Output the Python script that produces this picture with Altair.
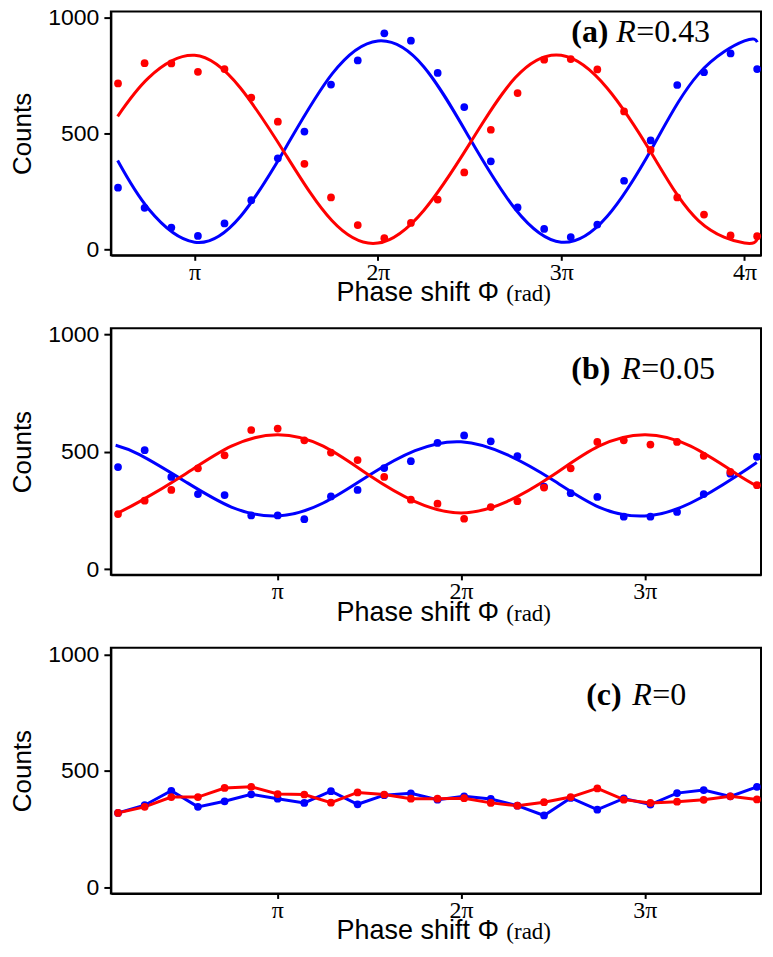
import altair as alt
import pandas as pd

# ---------------- data (x in units of pi) ----------------
xa = [0.582, 0.727, 0.873, 1.018, 1.163, 1.309, 1.454, 1.599, 1.744, 1.890, 2.035, 2.180,
      2.326, 2.471, 2.616, 2.762, 2.907, 3.052, 3.197, 3.343, 3.488, 3.633, 3.779, 3.924, 4.069]
a_blue = [266, 179, 94, 58, 112, 212, 393, 508, 711, 815, 932, 900,
          761, 614, 380, 181, 88, 53, 107, 296, 470, 709, 764, 845, 778]
a_red = [716, 803, 802, 766, 778, 655, 551, 369, 224, 105, 48, 114,
         215, 332, 516, 674, 818, 821, 776, 595, 429, 224, 150, 60, 57]

xb = [0.133, 0.278, 0.423, 0.568, 0.713, 0.858, 1.002, 1.147, 1.292, 1.437, 1.582, 1.727,
      1.872, 2.017, 2.162, 2.307, 2.452, 2.597, 2.742, 2.886, 3.031, 3.176, 3.321, 3.466, 3.611]
b_blue = [435, 507, 393, 320, 316, 229, 229, 213, 310, 338, 431, 460,
          538, 570, 545, 482, 352, 324, 308, 224, 224, 244, 320, 407, 479]
b_red = [235, 292, 338, 430, 485, 593, 599, 549, 497, 465, 393, 296,
         279, 215, 265, 290, 348, 430, 542, 549, 531, 542, 483, 415, 358]

c_blue = [320, 353, 415, 346, 370, 400, 381, 363, 413, 357, 396, 404,
          377, 391, 380, 351, 309, 384, 334, 382, 356, 405, 418, 391, 432]
c_red = [320, 346, 388, 388, 427, 432, 401, 399, 364, 408, 399, 381,
         381, 383, 363, 351, 366, 388, 425, 377, 363, 368, 376, 391, 378]

# fitted curves
fit_xa = [0.58, 0.75, 1.0, 1.25, 1.5, 1.75, 2.0, 2.25, 2.5, 2.75, 3.0, 3.25, 3.5, 3.75, 4.0, 4.07]
fit_a_blue = [383, 173, 31, 142, 443, 757, 899, 788, 480, 173, 31, 142, 443, 757, 899, 894]
fit_a_red = [574, 741, 837, 696, 405, 123, 27, 168, 455, 741, 837, 696, 405, 123, 27, 44]

fit_xb = [0.12, 0.25, 0.5, 0.75, 1.0, 1.25, 1.5, 1.75, 2.0, 2.25, 2.5, 2.75, 3.0, 3.25, 3.5, 3.61]
fit_b_blue = [528, 488, 373, 265, 227, 282, 400, 505, 543, 488, 380, 265, 227, 282, 397, 455]
fit_b_red = [235, 288, 406, 524, 573, 524, 400, 288, 240, 288, 400, 524, 573, 524, 406, 355]

labels = [("(a)", "R", "=0.43"), ("(b)", "R", "=0.05"), ("(c)", "R", "=0")]
series = ["blue", "red"]
xtitle_sans = "Phase shift Φ"
xtitle_serif = "(rad)"
ytitle = "Counts"

# ---------------- helpers ----------------
W = 651
SANS = "Liberation Sans"
SERIF = "Liberation Serif"
PT_COLORS = ["#1616c4", "#ee1c1c"]
LN_COLORS = ["#0000ff", "#ff0000"]


def long_df(xs, blue, red):
    rows = [{"x": x, "y": v, "s": "blue"} for x, v in zip(xs, blue)]
    rows += [{"x": x, "y": v, "s": "red"} for x, v in zip(xs, red)]
    return pd.DataFrame(rows)


def text_layer(txt, px, py, size, font, weight="normal", style="normal", align="left"):
    return alt.Chart(pd.DataFrame({"t": [txt]})).mark_text(
        font=font, fontSize=size, fontWeight=weight, fontStyle=style,
        align=align, baseline="alphabetic", color="black"
    ).encode(x=alt.value(px), y=alt.value(py), text="t:N")


def panel(xdom, ydom, h, ticks, pts, fit, lab, lab_pos, connect=False):
    xenc = alt.X("x:Q", scale=alt.Scale(domain=xdom, nice=False, zero=False),
                 axis=alt.Axis(values=ticks, title=None, grid=False, tickSize=5,
                               labelExpr="datum.value == 1 ? 'π' : datum.value + 'π'",
                               labelFont=SERIF, labelFontSize=24, labelPadding=0))
    yenc = alt.Y("y:Q", scale=alt.Scale(domain=ydom, nice=False, zero=False),
                 axis=alt.Axis(values=[0, 500, 1000], format="d", title=ytitle, grid=False,
                               tickSize=7, labelPadding=5,
                               titleFont=SANS, titleFontSize=26, titleFontWeight="normal",
                               titlePadding=12, labelFont=SANS, labelFontSize=23))
    pcol = alt.Color("s:N", scale=alt.Scale(domain=series, range=PT_COLORS), legend=None)
    lcol = alt.Color("s:N", scale=alt.Scale(domain=series, range=LN_COLORS), legend=None)
    layers = []
    if connect:
        layers.append(alt.Chart(pts).mark_line(strokeWidth=3).encode(x=xenc, y=yenc, color=lcol))
    else:
        layers.append(alt.Chart(fit).mark_line(strokeWidth=3, interpolate="natural").encode(
            x=xenc, y=yenc, color=lcol))
    layers.append(alt.Chart(pts).mark_circle(size=60, opacity=1).encode(x=xenc, y=yenc, color=pcol))
    lx, ly = lab_pos
    layers.append(text_layer(lab[0], lx[0], ly, 32, SERIF, weight="bold"))
    layers.append(text_layer(lab[1], lx[1], ly, 32, SERIF, style="italic"))
    layers.append(text_layer(lab[2], lx[2], ly, 32, SERIF))
    layers.append(text_layer(xtitle_sans, 226, h + 46, 27, SANS))
    layers.append(text_layer(xtitle_serif, 396, h + 46, 23, SERIF))
    return alt.layer(*layers).properties(width=W, height=h)


pa = panel([0.543, 4.09], [-25.6, 1025.6], 244, [1, 2, 3, 4],
           long_df(xa, a_blue, a_red), long_df(fit_xa, fit_a_blue, fit_a_red),
           labels[0], ((461, 506, 526), 30))
pb = panel([0.094, 3.633], [-24, 1026.6], 247, [1, 2, 3],
           long_df(xb, b_blue, b_red), long_df(fit_xb, fit_b_blue, fit_b_red),
           labels[1], ((461, 511, 531), 51))
pc = panel([0.094, 3.633], [-25.6, 1028.6], 246, [1, 2, 3],
           long_df(xb, c_blue, c_red), None,
           labels[2], ((476, 522, 542), 57), connect=True)

chart = alt.vconcat(pa, pb, pc, spacing=15).properties(
    padding={"left": 0, "top": -4, "right": 0, "bottom": 0}
).configure_view(stroke="black", strokeWidth=2).configure_axis(
    domainColor="black", domainWidth=2, tickColor="black", tickWidth=2,
    labelColor="black", titleColor="black"
)

chart.save("out.html", embed_options={"renderer": "svg", "actions": False})
